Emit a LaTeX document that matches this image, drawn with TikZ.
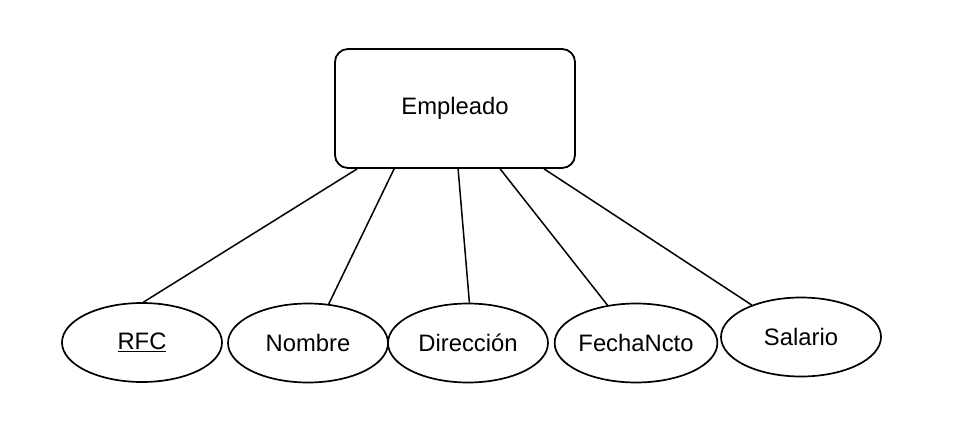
\documentclass[tikz,border=0pt]{standalone}
\usepackage{fontspec}
\setmainfont{Liberation Sans}
\usetikzlibrary{shapes.geometric}
\begin{document}
\begin{tikzpicture}[x=1pt,y=-1pt,
  entity/.style={draw,line width=1.8pt,rounded corners=13pt,minimum width=240pt,minimum height=119pt,inner sep=0pt},
  attr/.style={draw,ellipse,line width=1.7pt,minimum width=160pt,minimum height=79pt,inner sep=0pt},
  conn/.style={line width=1.5pt},
  lbl/.style={font=\fontsize{23.8}{28}\selectfont}]
\useasboundingbox (0,0) rectangle (954,434);
\node[entity,lbl] (emp) at (455,108.5) {Empleado};
\node[attr,lbl] (rfc) at (142,342.5) {\underline{RFC}};
\node[attr,lbl] (nom) at (308,343) {Nombre};
\node[attr,lbl] (dir) at (468,343) {Dirección};
\node[attr,lbl] (fec) at (636,343) {FechaNcto};
\node[attr,lbl] (sal) at (801,337) {Salario};
\draw[conn] ([xshift=23pt]emp.south west) -- (rfc.88);
\draw[conn] ([xshift=60pt]emp.south west) -- (nom.62);
\draw[conn] ([xshift=124pt]emp.south west) -- (dir.88);
\draw[conn] ([xshift=166pt]emp.south west) -- (fec.127);
\draw[conn] ([xshift=210pt]emp.south west) -- (sal.147);
\end{tikzpicture}
\end{document}
